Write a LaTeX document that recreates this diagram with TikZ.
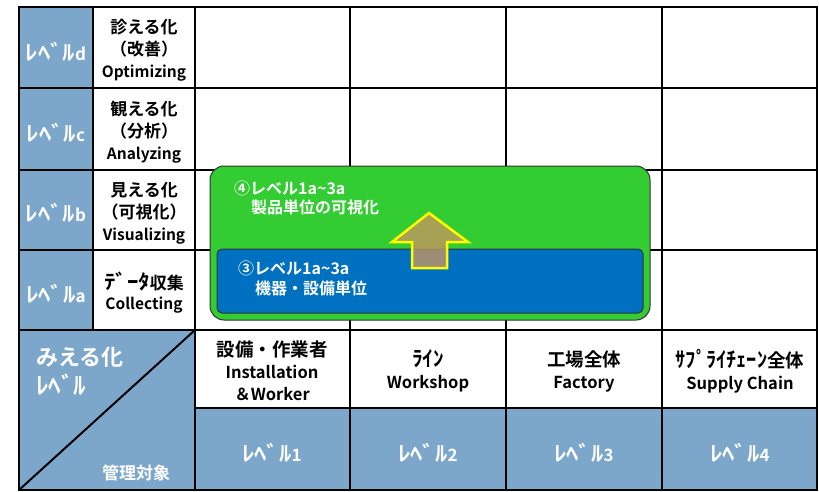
\documentclass[tikz,border=0pt]{standalone}
\usepackage{graphicx}
\usepackage{fontspec}
\newfontfamily\jp{Noto Sans CJK JP Bold}
\newcommand\hw[3][1.4]{\scalebox{#1}[#2]{#3}}
\newcommand\lat{\fontsize{15.5}{21}\selectfont}
\newcommand\hlat{\fontsize{16.5}{22}\selectfont}
\definecolor{lvblue}{RGB}{125,167,202}
\definecolor{boxgreen}{RGB}{51,204,51}
\definecolor{boxblue}{RGB}{0,112,192}
\definecolor{arrowfill}{RGB}{200,150,95}
\definecolor{arrowline}{RGB}{255,255,0}
\tikzset{
  gridline/.style={line width=2pt, draw=black},
  whitetxt/.style={text=white, inner sep=0pt, font=\jp\fontsize{17}{21}\selectfont},
  blacktxt/.style={text=black, inner sep=0pt, align=center, font=\jp\fontsize{17}{22}\selectfont},
  headtxt/.style={text=black, inner sep=0pt, align=center, font=\jp\fontsize{18.5}{22}\selectfont},
  boxtxt/.style={text=white, inner sep=0pt, anchor=west, font=\jp\fontsize{16}{18}\selectfont},
}
\begin{document}
\begin{tikzpicture}[x=1pt,y=-1pt]
\useasboundingbox (0,0) rectangle (819,492);
% blue fills
\fill[lvblue] (19,7) rectangle (93,330);
\fill[lvblue] (19,330) rectangle (195,490);
\fill[lvblue] (195,408) rectangle (817,490);
% grid
\draw[gridline] (19,7) rectangle (817,490);
\foreach \yy in {88,170,250,330} \draw[gridline] (19,\yy) -- (817,\yy);
\draw[gridline] (195,408) -- (817,408);
\draw[gridline] (93,7) -- (93,330);
\foreach \xx in {195,350,506,662} \draw[gridline] (\xx,7) -- (\xx,490);
\draw[gridline] (19,490) -- (195,330);
% left column labels
\node[whitetxt] (lvd) at (56,52) {\hw[1.45]{1.25}{ﾚﾍﾞﾙ}d};
\node[whitetxt] (lvc) at (56,133) {\hw[1.45]{1.25}{ﾚﾍﾞﾙ}c};
\node[whitetxt] (lvb) at (56,213) {\hw[1.45]{1.25}{ﾚﾍﾞﾙ}b};
\node[whitetxt] (lva) at (56,294) {\hw[1.45]{1.25}{ﾚﾍﾞﾙ}a};
% second column
\node[blacktxt] (optd) at (144,50) {診える化\\（改善）\\\lat Optimizing};
\node[blacktxt] (anac) at (144,132) {観える化\\（分析）\\\lat Analyzing};
\node[blacktxt] (visb) at (144,213) {見える化\\（可視化）\\\lat Visualizing};
\node[blacktxt, font=\jp\fontsize{17}{20}\selectfont] (cola) at (144,293) {\hw[1.35]{1.2}{ﾃﾞｰﾀ}収集\\\lat Collecting};
% header row
\node[headtxt] (h1) at (272,371) {設備・作業者\\\hlat Installation\\\hlat ＆Worker};
\node[headtxt] (h2) at (428,371) {\hw[1.15]{1.15}{ﾗｲﾝ}\\\hlat Workshop};
\node[headtxt] (h3) at (584,371) {工場全体\\\hlat Factory};
\node[headtxt] (h4) at (740,371) {\hw[1.1]{1.15}{ｻﾌﾟﾗｲﾁｪｰﾝ}全体\\\hlat Supply Chain};
% level row
\node[whitetxt] (l1) at (272,453) {\hw[1.45]{1.25}{ﾚﾍﾞﾙ}1};
\node[whitetxt] (l2) at (428,453) {\hw[1.45]{1.25}{ﾚﾍﾞﾙ}2};
\node[whitetxt] (l3) at (584,453) {\hw[1.45]{1.25}{ﾚﾍﾞﾙ}3};
\node[whitetxt] (l4) at (740,453) {\hw[1.45]{1.25}{ﾚﾍﾞﾙ}4};
% bottom-left corner
\node[whitetxt, anchor=west, font=\jp\fontsize{22}{24}\selectfont] (mie) at (36,357) {みえる化};
\node[whitetxt, anchor=west, font=\jp\fontsize{20}{24}\selectfont] (mielv) at (36,385) {\hw[1.25]{1.2}{ﾚﾍﾞﾙ}};
\node[whitetxt, anchor=west, font=\jp\fontsize{17}{18}\selectfont] (kanri) at (102,473) {管理対象};
% overlay boxes
\draw[fill=boxgreen, draw=black!80, line width=1pt, rounded corners=14pt] (210,166) rectangle (650,320);
\draw[fill=boxblue, draw=black!80, line width=1pt, rounded corners=5pt] (217,249) rectangle (643,313);
\node[boxtxt] (g1) at (234,188) {④レベル1a\textasciitilde 3a};
\node[boxtxt] (g2) at (251,207) {製品単位の可視化};
\node[boxtxt] (b1) at (238,268) {③レベル1a\textasciitilde 3a};
\node[boxtxt] (b2) at (255,288) {機器・設備単位};
% arrow
\draw[fill=arrowfill, fill opacity=0.78, draw=arrowline, line width=2.5pt, line join=miter]
  (429,213) -- (468,242) -- (447,242) -- (447,268) -- (412,268) -- (412,242) -- (392,242) -- cycle;
\end{tikzpicture}
\end{document}
